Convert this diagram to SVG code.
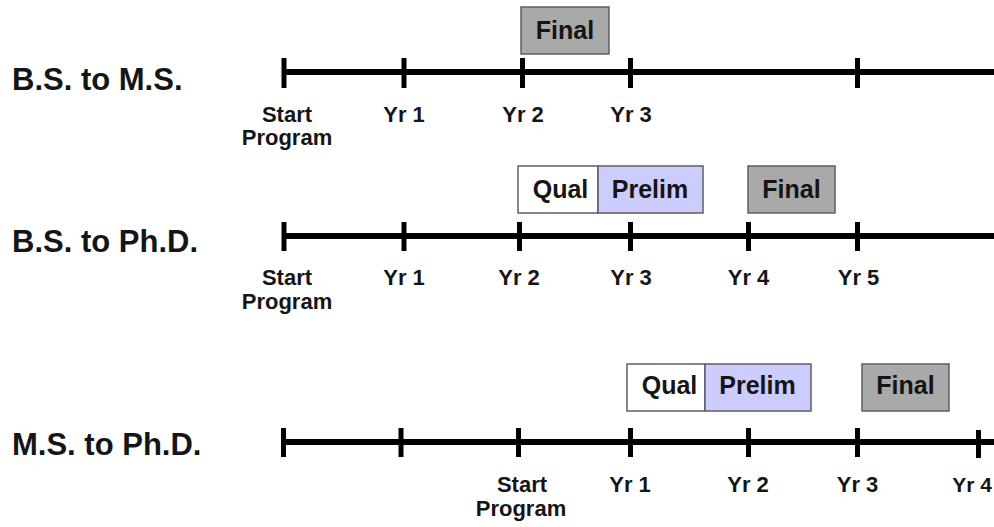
<svg xmlns="http://www.w3.org/2000/svg" width="994" height="527" viewBox="0 0 994 527">
<style>
text{font-family:"Liberation Sans",Arial,sans-serif;font-weight:bold;fill:#151515}
.row{font-size:31px}
.lbl{font-size:22px;text-anchor:middle}
.box{font-size:25px;text-anchor:middle}
.axis{stroke:#000;stroke-width:6}
.tick{stroke:#000;stroke-width:5}
.final{fill:#a9a9a9;stroke:#5f5f5f;stroke-width:1.5}
.qual{fill:#fff;stroke:#5f5f5f;stroke-width:1.5}
.prelim{fill:#ccccff;stroke:#5f5f5f;stroke-width:1.5}
</style>
<rect width="994" height="527" fill="#fff"/>

<g id="connectors">
  <line class="axis" x1="284" y1="72" x2="994" y2="72"/>
  <line class="axis" x1="284" y1="236" x2="994" y2="236"/>
  <line class="axis" x1="284" y1="442" x2="994" y2="442"/>
  <g id="ticks-bs-ms">
    <line class="tick" x1="284" y1="58" x2="284" y2="88"/>
    <line class="tick" x1="404" y1="58" x2="404" y2="88"/>
    <line class="tick" x1="522.5" y1="58" x2="522.5" y2="88"/>
    <line class="tick" x1="630.5" y1="58" x2="630.5" y2="88"/>
    <line class="tick" x1="857.5" y1="58" x2="857.5" y2="88"/>
  </g>
  <g id="ticks-bs-phd">
    <line class="tick" x1="284" y1="222" x2="284" y2="251"/>
    <line class="tick" x1="404" y1="222" x2="404" y2="251"/>
    <line class="tick" x1="519.5" y1="222" x2="519.5" y2="251"/>
    <line class="tick" x1="630.5" y1="222" x2="630.5" y2="251"/>
    <line class="tick" x1="748.5" y1="222" x2="748.5" y2="251"/>
    <line class="tick" x1="857.5" y1="222" x2="857.5" y2="251"/>
  </g>
  <g id="ticks-ms-phd">
    <line class="tick" x1="283.5" y1="428" x2="283.5" y2="457"/>
    <line class="tick" x1="401" y1="428" x2="401" y2="457"/>
    <line class="tick" x1="518.5" y1="428" x2="518.5" y2="457"/>
    <line class="tick" x1="630.5" y1="428" x2="630.5" y2="457"/>
    <line class="tick" x1="748.5" y1="428" x2="748.5" y2="457"/>
    <line class="tick" x1="857.5" y1="428" x2="857.5" y2="457"/>
    <line class="tick" x1="978.5" y1="430" x2="978.5" y2="458"/>
  </g>
</g>

<g id="row-bs-ms">
  <text class="row" x="12" y="90">B.S. to M.S.</text>
  <text class="lbl" x="287" y="122">Start</text>
  <text class="lbl" x="287" y="145">Program</text>
  <text class="lbl" x="404" y="122">Yr 1</text>
  <text class="lbl" x="523" y="122">Yr 2</text>
  <text class="lbl" x="631" y="122">Yr 3</text>
</g>
<g id="final-bs-ms">
  <rect class="final" x="521" y="7" width="88" height="47"/>
  <text class="box" x="565" y="39">Final</text>
</g>

<g id="row-bs-phd">
  <text class="row" x="12" y="252">B.S. to Ph.D.</text>
  <text class="lbl" x="287" y="285">Start</text>
  <text class="lbl" x="287" y="309">Program</text>
  <text class="lbl" x="404" y="285">Yr 1</text>
  <text class="lbl" x="519" y="285">Yr 2</text>
  <text class="lbl" x="631" y="285">Yr 3</text>
  <text class="lbl" x="748.5" y="285">Yr 4</text>
  <text class="lbl" x="858.5" y="285">Yr 5</text>
</g>
<g id="qual-bs-phd">
  <rect class="qual" x="518" y="166" width="80" height="47"/>
  <text class="box" x="560.5" y="198">Qual</text>
</g>
<g id="prelim-bs-phd">
  <rect class="prelim" x="598" y="166" width="105" height="47"/>
  <text class="box" x="650" y="198">Prelim</text>
</g>
<g id="final-bs-phd">
  <rect class="final" x="748" y="166" width="87" height="47"/>
  <text class="box" x="791.5" y="198">Final</text>
</g>

<g id="row-ms-phd">
  <text class="row" x="12" y="455">M.S. to Ph.D.</text>
  <text class="lbl" x="522" y="492">Start</text>
  <text class="lbl" x="521" y="516">Program</text>
  <text class="lbl" x="630" y="492">Yr 1</text>
  <text class="lbl" x="748" y="492">Yr 2</text>
  <text class="lbl" x="857.5" y="492">Yr 3</text>
  <text class="lbl" x="992" y="492" style="text-anchor:end;font-size:21px">Yr 4</text>
</g>
<g id="qual-ms-phd">
  <rect class="qual" x="627" y="364" width="78" height="47"/>
  <text class="box" x="669.5" y="394">Qual</text>
</g>
<g id="prelim-ms-phd">
  <rect class="prelim" x="705" y="364" width="106" height="47"/>
  <text class="box" x="757.5" y="394">Prelim</text>
</g>
<g id="final-ms-phd">
  <rect class="final" x="862" y="364" width="87" height="47"/>
  <text class="box" x="905.5" y="394">Final</text>
</g>
</svg>
